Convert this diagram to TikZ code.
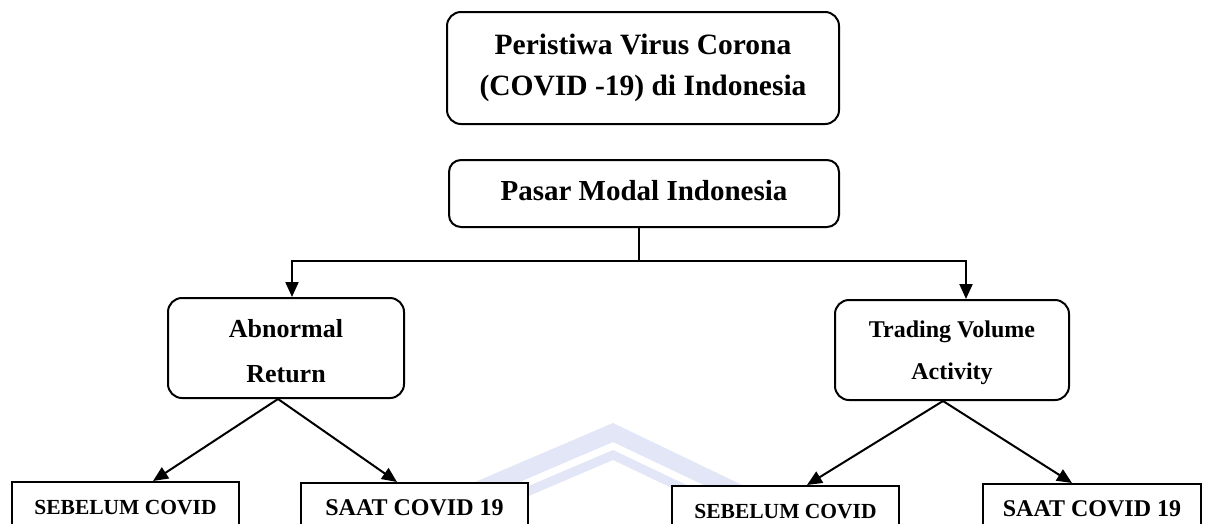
\documentclass[tikz,border=0pt]{standalone}
\usepackage{fontspec}
\setmainfont{Liberation Serif}
\usetikzlibrary{arrows.meta}
\definecolor{wmblue}{RGB}{226,230,246}
\begin{document}
\begin{tikzpicture}[x=1pt,y=-1pt,
  rbox/.style={draw, line width=2pt, rounded corners=14pt, fill=white,
    align=center, inner sep=0pt},
  sbox/.style={draw, line width=2pt, fill=white, align=center,
    inner xsep=0pt, inner ysep=16pt, text height=16pt, text depth=50pt,
    anchor=north, minimum width=227pt},
  link/.style={line width=2pt},
  arr/.style={line width=2pt, -{Triangle[length=15pt,width=13pt]}},
]
\useasboundingbox (0,0) rectangle (1209,523);
\clip (0,0) rectangle (1209,523);

% faint logo chevrons in the background
\fill[wmblue] (440,497) -- (613,423) -- (790,508) -- (790,526) -- (613,442) -- (440,516) -- cycle;
\fill[wmblue] (470,511) -- (613,450) -- (760,520) -- (760,530) -- (613,460) -- (470,521) -- cycle;

% event and market
\node[rbox, minimum width=392pt, minimum height=112pt, text height=61pt, text depth=6pt,
  font=\fontsize{29.5}{41}\selectfont\bfseries] (evt) at (643,68)
  {Peristiwa Virus Corona\\(COVID -19) di Indonesia};
\node[rbox, rounded corners=12pt, minimum width=390pt, minimum height=67pt,
  text height=20pt, text depth=7pt,
  font=\fontsize{29}{35}\selectfont\bfseries] (pm) at (644,193.5)
  {Pasar Modal Indonesia};

% variables
\node[rbox, minimum width=236pt, minimum height=100pt, text height=68pt, text depth=0pt,
  font=\fontsize{26}{45}\selectfont\bfseries] (abn) at (286,348)
  {Abnormal\\Return};
\node[rbox, minimum width=234pt, minimum height=100pt, text height=63pt, text depth=5pt,
  font=\fontsize{24}{42}\selectfont\bfseries] (trd) at (952,350)
  {Trading Volume\\Activity};

% periods
\node[sbox, font=\fontsize{21.5}{26}\selectfont\bfseries] (seb1) at (125.5,481) {SEBELUM COVID};
\node[sbox, font=\fontsize{24}{28}\selectfont\bfseries] (saat1) at (414.5,482) {SAAT COVID 19};
\node[sbox, font=\fontsize{21.5}{26}\selectfont\bfseries] (seb2) at (785.5,485) {SEBELUM COVID};
\node[sbox, minimum width=218pt, font=\fontsize{24}{28}\selectfont\bfseries] (saat2) at (1092,483) {SAAT COVID 19};

% connectors
\coordinate (split) at (639,261);
\coordinate (la) at (292,261);
\coordinate (ra) at (966,261);
\draw[link] (pm.south -| split) -- (split);
\draw[arr] (split) -- (la) -- (la |- abn.north);
\draw[arr] (split) -- (ra) -- (ra |- trd.north);

\draw[arr] ([xshift=-8pt]abn.south) -- ([xshift=27.5pt]seb1.north);
\draw[arr] ([xshift=-8pt]abn.south) -- ([xshift=-17.5pt]saat1.north);
\draw[arr] ([xshift=-9pt]trd.south) -- ([xshift=21.5pt]seb2.north);
\draw[arr] ([xshift=-9pt]trd.south) -- ([xshift=-20pt]saat2.north);
\end{tikzpicture}
\end{document}
